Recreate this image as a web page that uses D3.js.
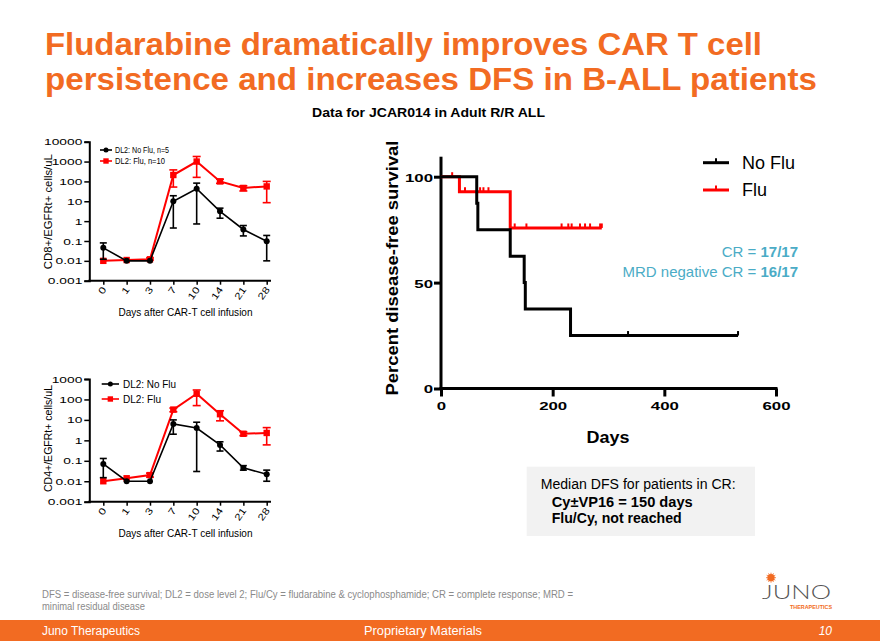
<!DOCTYPE html>
<html><head><meta charset="utf-8">
<script src="https://cdn.jsdelivr.net/npm/d3@7"></script>
<style>
html,body{margin:0;padding:0;background:#fff;}
svg{display:block;font-family:"Liberation Sans",Arial,Helvetica,sans-serif;}
</style></head>
<body>
<svg id="chart" width="880" height="641"></svg>
<script>
// ---------------- DATA ----------------
const days = ["0","1","3","7","10","14","21","28"];
const cd8NoFlu   = [0.045, 0.01, 0.01, 10, 43, 3.1, 0.38, 0.096];
const cd8NoFluHi = [0.08, 0.01, 0.01, 19, 82, 4.5, 0.6, 0.19];
const cd8NoFluLo = [0.012, 0.01, 0.01, 0.45, 0.72, 1.4, 0.18, 0.01];
const cd8Flu     = [0.01, 0.011, 0.012, 210, 1000, 100, 47, 56];
const cd8FluHi   = [0.01, 0.011, 0.014, 380, 1800, 130, 60, 100];
const cd8FluLo   = [0.01, 0.011, 0.011, 52, 160, 80, 33, 8.5];
const cd8Ticks   = [0.001, 0.01, 0.1, 1, 10, 100, 1000, 10000];

const cd4NoFlu   = [0.07, 0.01, 0.01, 6.3, 4, 0.6, 0.045, 0.022];
const cd4NoFluHi = [0.13, 0.01, 0.01, 10, 7.7, 0.85, 0.058, 0.035];
const cd4NoFluLo = [0.015, 0.01, 0.01, 2, 0.03, 0.3, 0.035, 0.01];
const cd4Flu     = [0.01, 0.014, 0.02, 32, 190, 19, 2.1, 2.3];
const cd4FluHi   = [0.01, 0.014, 0.025, 38, 290, 28, 2.6, 4.2];
const cd4FluLo   = [0.01, 0.014, 0.016, 25, 50, 9, 1.7, 0.6];
const cd4Ticks   = [0.001, 0.01, 0.1, 1, 10, 100, 1000];

// Kaplan-Meier (disease-free survival)
const noFluTimes = [0, 64, 66, 124, 149, 151, 232, 532];
const noFluSurv  = [100, 87.5, 75, 62.5, 50, 37.5, 25, 25];
const noFluCensor = [335, 532];
const fluTimes = [0, 33, 124, 288];
const fluSurv  = [100, 92.9, 75.8, 75.8];
const fluCensor = [20, 43, 70, 76, 85, 132, 153, 216, 228, 234, 249, 258, 267, 285, 288];
const kmXTicks = [0, 200, 400, 600];
const kmYTicks = [0, 50, 100];

// ---------------- HELPERS ----------------
const svg = d3.select("#chart");
const ORANGE = "#F26B22", RED = "#FF0000", TEAL = "#4BACC6";
function fit(sel, w){ sel.attr("textLength", w).attr("lengthAdjust","spacingAndGlyphs"); return sel; }
function stretch(sel, f){
  sel.each(function(){ const l = this.getComputedTextLength();
    d3.select(this).attr("textLength", l*f).attr("lengthAdjust","spacingAndGlyphs"); });
}

// ---------------- TITLE ----------------
fit(svg.append("text").attr("x",45).attr("y",55).attr("fill",ORANGE)
  .attr("font-size",32).attr("font-weight","bold")
  .text("Fludarabine dramatically improves CAR T cell"), 717);
fit(svg.append("text").attr("x",45).attr("y",90).attr("fill",ORANGE)
  .attr("font-size",32).attr("font-weight","bold")
  .text("persistence and increases DFS in B-ALL patients"), 772);
fit(svg.append("text").attr("x",312).attr("y",117).attr("fill","#000")
  .attr("font-size",13).attr("font-weight","bold")
  .text("Data for JCAR014 in Adult R/R ALL"), 233);

// ---------------- LEFT PANELS ----------------
function panel(o){
  const g = svg.append("g");
  const x = d3.scalePoint().domain(days).range([103.3, 266.7]);
  const y = d3.scaleLog().domain([o.ticks[0], o.ticks[o.ticks.length-1]]).range([o.y0, o.y1]);
  // y axis
  const ya = g.append("g").attr("transform","translate(89.3,0)")
    .call(d3.axisLeft(y).tickValues(o.ticks).tickFormat(d3.format("~f")).tickSize(5).tickPadding(2));
  ya.select(".domain").attr("stroke-width",2);
  ya.selectAll(".tick line").attr("stroke-width",1.5);
  ya.selectAll("text").attr("font-size",9.5).attr("fill","#000").attr("font-family","inherit");
  stretch(ya.selectAll("text"), 1.45);
  // x axis
  const xa = g.append("g").attr("transform",`translate(0,${o.y0})`)
    .call(d3.axisBottom(x).tickSize(4).tickSizeOuter(0));
  xa.select(".domain").remove();
  g.append("line").attr("x1",88.3).attr("x2",271).attr("y1",o.y0).attr("y2",o.y0)
    .attr("stroke","#000").attr("stroke-width",2);
  xa.selectAll(".tick line").attr("stroke-width",1.5);
  xa.selectAll("text").attr("font-size",9.5).attr("fill","#000").attr("font-family","inherit")
    .attr("text-anchor","end").attr("dy",0).attr("y",0)
    .attr("transform","translate(3,9) rotate(-55)");
  stretch(xa.selectAll("text"), 1.25);
  // axis labels
  fit(g.append("text").attr("x",185.5).attr("y",o.y0+35.5).attr("text-anchor","middle")
    .attr("font-size",10.5).text("Days after CAR-T cell infusion"), 134);
  fit(g.append("text").attr("transform",`translate(51.5,${o.ylabY}) rotate(-90)`)
    .attr("text-anchor","middle").attr("font-size",10).text(o.ylab), o.ylabW);

  const series = [
    {v:o.flu, hi:o.fluHi, lo:o.fluLo, c:RED, w:2, m:"sq", cap:4},
    {v:o.noflu, hi:o.nofluHi, lo:o.nofluLo, c:"#000", w:1.6, m:"ci", cap:3.5}
  ];
  series.forEach(s=>{
    const pts = days.map((d,i)=>({d, v:s.v[i], hi:s.hi[i], lo:s.lo[i]}));
    g.append("path").datum(pts).attr("fill","none").attr("stroke",s.c).attr("stroke-width",s.w)
      .attr("d", d3.line().x(p=>x(p.d)).y(p=>y(p.v)));
    const eb = g.append("g").attr("stroke",s.c).attr("stroke-width",1.6);
    pts.filter(p=>p.hi!==p.lo).forEach(p=>{
      const cx = x(p.d);
      eb.append("line").attr("x1",cx).attr("x2",cx).attr("y1",y(p.hi)).attr("y2",y(p.lo));
      if (p.hi>p.v) eb.append("line").attr("x1",cx-s.cap).attr("x2",cx+s.cap).attr("y1",y(p.hi)).attr("y2",y(p.hi));
      if (p.lo<p.v) eb.append("line").attr("x1",cx-s.cap).attr("x2",cx+s.cap).attr("y1",y(p.lo)).attr("y2",y(p.lo));
    });
    if (s.m==="sq") g.selectAll(null).data(pts).join("rect").attr("x",p=>x(p.d)-3.2).attr("y",p=>y(p.v)-3.2)
      .attr("width",6.4).attr("height",6.4).attr("fill",s.c);
    else g.selectAll(null).data(pts).join("circle").attr("cx",p=>x(p.d)).attr("cy",p=>y(p.v))
      .attr("r",3).attr("fill",s.c);
  });
  // legend
  o.legend.forEach((L,i)=>{
    const ly = L.y, c = i===0?"#000":RED;
    g.append("line").attr("x1",L.x1).attr("x2",L.x2).attr("y1",ly).attr("y2",ly).attr("stroke",c).attr("stroke-width",1.6);
    const mx=(L.x1+L.x2)/2;
    if (i===0) g.append("circle").attr("cx",mx).attr("cy",ly).attr("r",2.5).attr("fill",c);
    else g.append("rect").attr("x",mx-2.7).attr("y",ly-2.7).attr("width",5.4).attr("height",5.4).attr("fill",c);
    fit(g.append("text").attr("x",L.tx).attr("y",ly+L.fs*0.36).attr("font-size",L.fs).text(L.t), L.w);
  });
}

panel({ticks:cd8Ticks, y0:280.7, y1:141.7, ylab:"CD8+/EGFRt+ cells/uL", ylabY:211.7, ylabW:115,
  noflu:cd8NoFlu, nofluHi:cd8NoFluHi, nofluLo:cd8NoFluLo, flu:cd8Flu, fluHi:cd8FluHi, fluLo:cd8FluLo,
  legend:[{y:150,x1:100,x2:112,tx:115,t:"DL2: No Flu, n=5",w:54,fs:8.5},
          {y:161,x1:100,x2:112,tx:115,t:"DL2: Flu, n=10",w:50,fs:8.5}]});
panel({ticks:cd4Ticks, y0:501.7, y1:379, ylab:"CD4+/EGFRt+ cells/uL", ylabY:438.5, ylabW:107,
  noflu:cd4NoFlu, nofluHi:cd4NoFluHi, nofluLo:cd4NoFluLo, flu:cd4Flu, fluHi:cd4FluHi, fluLo:cd4FluLo,
  legend:[{y:384,x1:101.7,x2:119,tx:123,t:"DL2: No Flu",w:53,fs:10.5},
          {y:399,x1:101.7,x2:119,tx:123,t:"DL2: Flu",w:38,fs:10.5}]});

// ---------------- KAPLAN-MEIER ----------------
const km = svg.append("g");
const kx = d3.scaleLinear().domain([0,600]).range([441,776]);
const ky = d3.scaleLinear().domain([0,100]).range([388.5,176.7]);
const kya = km.append("g").attr("transform","translate(441,0)")
  .call(d3.axisLeft(ky).tickValues(kmYTicks).tickSize(7).tickSizeOuter(0).tickPadding(1));
kya.select(".domain").remove();
km.append("line").attr("x1",441).attr("x2",441).attr("y1",156.7).attr("y2",390).attr("stroke","#000").attr("stroke-width",3);
kya.selectAll(".tick line").attr("stroke-width",3);
kya.selectAll("text").attr("font-size",11.6).attr("font-weight","bold").attr("fill","#000")
  .attr("font-family","inherit").attr("dy","0.38em");
stretch(kya.selectAll("text"),1.45);
const kxa = km.append("g").attr("transform","translate(0,388.5)")
  .call(d3.axisBottom(kx).tickValues(kmXTicks).tickSize(8).tickSizeOuter(0).tickPadding(5));
kxa.select(".domain").remove();
km.append("line").attr("x1",439.5).attr("x2",777.5).attr("y1",388.5).attr("y2",388.5).attr("stroke","#000").attr("stroke-width",3);
kxa.selectAll(".tick line").attr("stroke-width",3);
kxa.selectAll("text").attr("font-size",11.6).attr("font-weight","bold").attr("fill","#000").attr("font-family","inherit");
stretch(kxa.selectAll("text"),1.45);

fit(km.append("text").attr("transform","translate(398,268) rotate(-90)").attr("text-anchor","middle")
  .attr("font-size",17).attr("font-weight","bold").text("Percent disease-free survival"), 255);
fit(km.append("text").attr("x",608).attr("y",443).attr("text-anchor","middle")
  .attr("font-size",17).attr("font-weight","bold").text("Days"), 43);

function stepAt(times, surv, t){ let v = surv[0]; times.forEach((tt,i)=>{ if (tt<=t) v = surv[i]; }); return v; }
const stepLine = d3.line().curve(d3.curveStepAfter).x(d=>kx(d[0])).y(d=>ky(d[1]));
[{t:fluTimes, s:fluSurv, c:fluCensor, col:RED},
 {t:noFluTimes, s:noFluSurv, c:noFluCensor, col:"#000"}].forEach(S=>{
  km.append("path").datum(S.t.map((t,i)=>[t,S.s[i]])).attr("fill","none").attr("stroke",S.col)
    .attr("stroke-width",3).attr("d",stepLine);
  S.c.forEach(ct=>{
    const yy = ky(stepAt(S.t,S.s,ct));
    km.append("line").attr("x1",kx(ct)).attr("x2",kx(ct)).attr("y1",yy).attr("y2",yy-4.5)
      .attr("stroke",S.col).attr("stroke-width",2);
  });
});
// KM legend
[{y:162.7,c:"#000",t:"No Flu",w:53,ty:169.3},{y:190,c:RED,t:"Flu",w:25,ty:196}].forEach(L=>{
  km.append("line").attr("x1",703).attr("x2",729).attr("y1",L.y).attr("y2",L.y).attr("stroke",L.c).attr("stroke-width",3);
  km.append("line").attr("x1",716).attr("x2",716).attr("y1",L.y).attr("y2",L.y-4.5).attr("stroke",L.c).attr("stroke-width",2);
  fit(km.append("text").attr("x",742).attr("y",L.ty).attr("font-size",17.5).attr("fill","#000").text(L.t), L.w);
});
// CR annotations
const cr1 = km.append("text").attr("x",798).attr("y",256.5).attr("text-anchor","end").attr("font-size",15).attr("fill",TEAL);
cr1.append("tspan").text("CR = ");
cr1.append("tspan").attr("font-weight","bold").text("17/17");
const cr2 = km.append("text").attr("x",798).attr("y",276.5).attr("text-anchor","end").attr("font-size",15).attr("fill",TEAL);
cr2.append("tspan").text("MRD negative CR = ");
cr2.append("tspan").attr("font-weight","bold").text("16/17");

// Median DFS box
svg.append("rect").attr("x",526.7).attr("y",466.7).attr("width",228.3).attr("height",69.3).attr("fill","#F2F2F2");
fit(svg.append("text").attr("x",540.7).attr("y",489.3).attr("font-size",14).text("Median DFS for patients in CR:"),195);
fit(svg.append("text").attr("x",551.7).attr("y",506.7).attr("font-size",14).attr("font-weight","bold").text("Cy\u00B1VP16 = 150 days"),141);
fit(svg.append("text").attr("x",551.7).attr("y",523.3).attr("font-size",14).attr("font-weight","bold").text("Flu/Cy, not reached"),130);

// ---------------- FOOTNOTE / FOOTER ----------------
fit(svg.append("text").attr("x",42).attr("y",598).attr("font-size",10).attr("fill","#8a8a8a")
  .text("DFS = disease-free survival; DL2 = dose level 2; Flu/Cy = fludarabine & cyclophosphamide; CR = complete response; MRD ="),531);
fit(svg.append("text").attr("x",42).attr("y",610).attr("font-size",10).attr("fill","#8a8a8a")
  .text("minimal residual disease"),103);

svg.append("rect").attr("x",0).attr("y",620).attr("width",880).attr("height",21).attr("fill",ORANGE);
fit(svg.append("text").attr("x",42).attr("y",635).attr("font-size",12).attr("fill","#fff").text("Juno Therapeutics"),98);
fit(svg.append("text").attr("x",364).attr("y",635).attr("font-size",12).attr("fill","#fff").text("Proprietary Materials"),118);
svg.append("text").attr("x",832).attr("y",635).attr("text-anchor","end").attr("font-size",12).attr("font-style","italic").attr("fill","#fff").text("10");

// logo
const logo = svg.append("g");
logo.append("circle").attr("cx",771).attr("cy",577.7).attr("r",3.6).attr("fill",ORANGE);
for (let a=0;a<12;a++){ const ang=a*Math.PI/6;
  logo.append("line").attr("x1",771+3*Math.cos(ang)).attr("y1",577.7+3*Math.sin(ang))
    .attr("x2",771+5*Math.cos(ang)).attr("y2",577.7+5*Math.sin(ang)).attr("stroke",ORANGE).attr("stroke-width",0.8);
}
fit(logo.append("text").attr("x",762).attr("y",598.5).attr("font-family","Lato, 'Open Sans', sans-serif")
  .attr("font-weight",300).attr("font-size",20).attr("fill","#555").text("JUNO"),69);
fit(logo.append("text").attr("x",790).attr("y",608.5).attr("font-size",5).attr("font-weight","bold").attr("fill",ORANGE).text("THERAPEUTICS"),42);
</script>
</body></html>
